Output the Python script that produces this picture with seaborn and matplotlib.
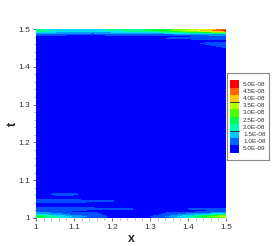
import numpy as np
import matplotlib
matplotlib.use("Agg")
import matplotlib.pyplot as plt
import seaborn as sns
from matplotlib.patches import Rectangle
from matplotlib.ticker import MultipleLocator

sns.set_style("white")
plt.rcParams['font.family'] = ['Liberation Sans', 'DejaVu Sans']

# ---- data (values in units of 1e-8) ----
x_vals = [1.0, 1.05, 1.1, 1.15, 1.2, 1.25, 1.3, 1.35, 1.4, 1.45, 1.5]
t_vals = [1.000, 1.004, 1.008, 1.013, 1.018, 1.024, 1.030, 1.038, 1.045, 1.052,
          1.063, 1.072, 1.100, 1.440, 1.455, 1.462, 1.468, 1.475, 1.481, 1.487,
          1.492, 1.496, 1.500]
field_rows = [
    [2.4, 1.8, 1.1, 0.7, 0.4, 0.2, 0.4, 0.8, 1.6, 2.3, 3.0],
    [3.0, 2.2, 1.4, 0.8, 0.4, 0.2, 0.5, 1.1, 2.0, 3.0, 3.7],
    [1.9, 1.3, 0.9, 0.7, 0.3, 0.1, 0.3, 0.7, 1.3, 1.9, 2.5],
    [1.2, 1.0, 0.9, 0.65, 0.2, 0.0, 0.1, 0.6, 0.8, 1.0, 1.2],
    [0.3, 0.2, 0.2, 0.1, 0.0, 0.0, 0.0, 0.0, 0.2, 0.3, 0.4],
    [1.0, 0.9, 0.9, 0.8, 0.7, 0.55, 0.1, 0.0, 0.5, 0.7, 0.8],
    [0.3, 0.2, 0.2, 0.1, 0.0, 0.0, 0.0, 0.0, 0.0, 0.0, 0.0],
    [0.3, 0.3, 0.2, 0.1, 0.0, 0.0, 0.0, 0.0, 0.0, 0.0, 0.0],
    [0.9, 0.9, 0.8, 0.7, 0.55, 0.1, 0.0, 0.0, 0.0, 0.0, 0.0],
    [0.2, 0.2, 0.1, 0.0, 0.0, 0.0, 0.0, 0.0, 0.0, 0.0, 0.0],
    [0.1, 0.6, 0.6, 0.2, 0.0, 0.0, 0.0, 0.0, 0.0, 0.0, 0.0],
    [0.0, 0.0, 0.0, 0.0, 0.0, 0.0, 0.0, 0.0, 0.0, 0.0, 0.0],
    [0.0, 0.0, 0.0, 0.0, 0.0, 0.0, 0.0, 0.0, 0.0, 0.0, 0.0],
    [0.0, 0.0, 0.0, 0.0, 0.0, 0.0, 0.0, 0.0, 0.0, 0.0, 0.0],
    [0.0, 0.0, 0.0, 0.0, 0.0, 0.0, 0.0, 0.0, 0.0, 0.3, 0.7],
    [0.0, 0.0, 0.0, 0.0, 0.0, 0.0, 0.0, 0.0, 0.3, 0.6, 0.6],
    [0.0, 0.0, 0.0, 0.0, 0.0, 0.0, 0.0, 0.0, 0.0, 0.2, 0.3],
    [0.0, 0.0, 0.0, 0.0, 0.0, 0.0, 0.2, 0.55, 0.6, 0.7, 0.7],
    [0.2, 0.2, 0.1, 0.1, 0.2, 0.2, 0.3, 0.4, 0.4, 0.6, 0.9],
    [1.0, 0.9, 0.8, 0.7, 0.9, 0.9, 1.0, 1.0, 1.1, 1.3, 1.5],
    [2.0, 1.5, 1.4, 1.3, 1.5, 1.6, 1.9, 2.1, 2.5, 2.9, 3.3],
    [2.6, 2.0, 1.9, 1.9, 2.1, 2.3, 2.6, 3.0, 3.6, 4.2, 5.2],
    [1.8, 1.7, 1.8, 1.8, 2.0, 2.2, 2.4, 2.7, 3.2, 3.7, 4.6],
]
level_vals = [0.5, 1.0, 1.5, 2.0, 2.5, 3.0, 3.5, 4.0, 4.5, 5.0]
level_labels = ["5.0E-09", "1.0E-08", "1.5E-08", "2.0E-08", "2.5E-08",
                "3.0E-08", "3.5E-08", "4.0E-08", "4.5E-08", "5.0E-08"]
band_colors = ["#0000ff", "#0050ff", "#009cff", "#00dcff", "#00ff96",
               "#00ff3c", "#78ff00", "#c8ff00", "#ffc800", "#ff6400", "#ff0000"]
legend_colors = ["#0000ff", "#0064ff", "#00c8ff", "#00ffb4", "#00ff50",
                 "#50ff00", "#b4ff00", "#ffc800", "#ff6400", "#ff0000"]

X = np.array(x_vals)
T = np.array(t_vals)
Z = np.array(field_rows) * 1e-8
levels = [-1e-6] + [v * 1e-8 for v in level_vals] + [1e-6]

fig = plt.figure(figsize=(2.77, 2.46), dpi=100)
ax = fig.add_axes([36 / 277, 28 / 246, 190 / 277, 189 / 246])
ax.contourf(X, T, Z, levels=levels, colors=band_colors)
ax.set_xlim(1.0, 1.5)
ax.set_ylim(1.0, 1.5)
for s in ax.spines.values():
    s.set_visible(False)
ax.xaxis.set_minor_locator(MultipleLocator(0.02))
ax.yaxis.set_minor_locator(MultipleLocator(0.02))
ax.set_xticks([1.0, 1.1, 1.2, 1.3, 1.4, 1.5])
ax.set_xticklabels(["1", "1.1", "1.2", "1.3", "1.4", "1.5"])
ax.set_yticks([1.0, 1.1, 1.2, 1.3, 1.4, 1.5])
ax.set_yticklabels(["1", "1.1", "1.2", "1.3", "1.4", "1.5"])
ax.tick_params(which='major', direction='out', length=2.5, width=0.6,
               color='#555555', labelsize=6, labelcolor='#333333', pad=2,
               bottom=True, left=True)
ax.tick_params(which='minor', direction='out', length=1.2, width=0.4,
               color='#777777', bottom=True, left=True)
ax.set_xlabel("x", fontsize=9, fontweight='bold', labelpad=1)
ax.set_ylabel("t", fontsize=9, fontweight='bold', labelpad=-1)

# legend box
lax = fig.add_axes([227 / 277, (246 - 160) / 246, 42 / 277, 87 / 246])
lax.set_xlim(0, 42)
lax.set_ylim(0, 87)
lax.set_xticks([])
lax.set_yticks([])
for s in lax.spines.values():
    s.set_visible(True)
    s.set_color('#888888')
    s.set_linewidth(0.8)
sw_h = 7.2
y0 = 7.5
for i, (c, lab) in enumerate(zip(legend_colors, level_labels)):
    yb = y0 + i * sw_h
    lax.add_patch(Rectangle((3, yb), 9, sw_h, color=c, lw=0))
    lax.text(16, yb + sw_h / 2, lab, fontsize=4.6, va='center', ha='left',
             color='#333333')
for i in (2, 6):
    yb = y0 + i * sw_h + sw_h
    lax.plot([3, 12], [yb, yb], color='#222222', lw=0.6)

fig.savefig("out.png", dpi=100)
